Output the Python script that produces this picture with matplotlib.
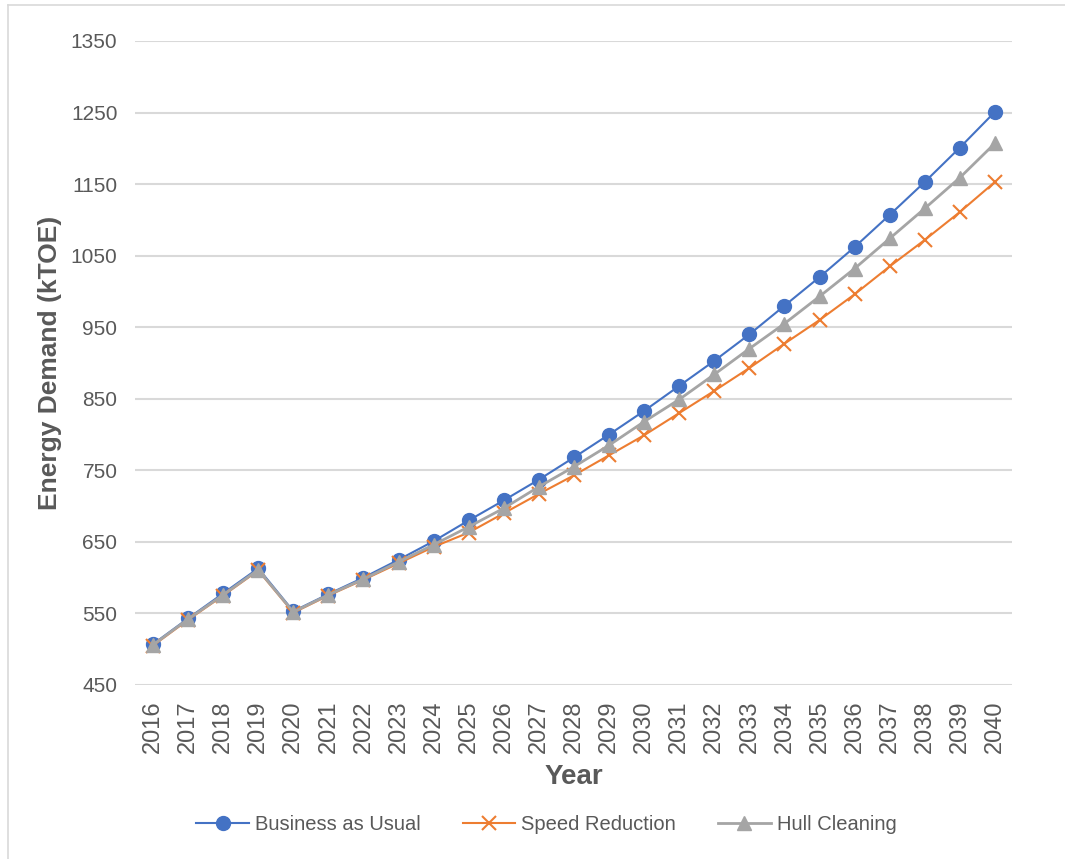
import matplotlib
matplotlib.use("Agg")
import matplotlib.pyplot as plt
from matplotlib.lines import Line2D

years = list(range(2016, 2041))
business_as_usual = [507, 543, 578, 613, 553, 577, 600, 625, 651, 680, 708, 737, 768,
                     800, 833, 868, 903, 940, 980, 1020, 1062, 1107, 1153, 1201, 1251]
speed_reduction = [505, 541, 575, 610, 551, 575, 597, 620, 643, 663, 690, 717, 743,
                   771, 799, 830, 861, 893, 927, 960, 996, 1035, 1072, 1111, 1153]
hull_cleaning = [506, 542, 576, 611, 552, 576, 598, 622, 646, 671, 697, 727, 755,
                 785, 818, 849, 884, 920, 955, 993, 1032, 1074, 1116, 1159, 1207]
y_ticks = [450, 550, 650, 750, 850, 950, 1050, 1150, 1250, 1350]

plt.rcParams['font.family'] = ['Liberation Sans', 'DejaVu Sans']
grey_text = '#595959'

fig = plt.figure(figsize=(10.65, 8.59), dpi=100)
ax = fig.add_axes([0.1272, 0.2026, 0.8235, 0.7497])

x = list(range(len(years)))
ax.plot(x, business_as_usual, color='#4472C4', lw=1.5, marker='o', ms=10,
        label='Business as Usual', zorder=3)
ax.plot(x, speed_reduction, color='#ED7D31', lw=1.5, marker='x', ms=10, mew=1.5,
        label='Speed Reduction', zorder=4)
ax.plot(x, hull_cleaning, color='#A5A5A5', lw=2, marker='^', ms=10,
        label='Hull Cleaning', zorder=5)

ax.set_xlim(-0.5, len(years) - 0.5)
ax.set_ylim(450, 1350)
ax.set_yticks(y_ticks)
ax.set_xticks(x)
ax.set_xticklabels([str(y) for y in years], rotation=90)
ax.tick_params(axis='both', length=0, colors=grey_text)
ax.tick_params(axis='y', pad=13, labelsize=15)
ax.tick_params(axis='x', pad=11, labelsize=17)
ax.grid(axis='y', color='#D9D9D9', lw=1.5)
ax.set_axisbelow(True)
for s in ax.spines.values():
    s.set_visible(False)

ax.set_ylabel('Energy Demand (kTOE)', fontsize=19, fontweight='bold', color=grey_text, labelpad=6)
ax.set_xlabel('Year', fontsize=20, fontweight='bold', color=grey_text, labelpad=8)

leg = fig.legend(loc='center', bbox_to_anchor=(0.513, 0.040), ncol=3, frameon=False,
                 fontsize=14.5, handlelength=2.6, handletextpad=0.3, columnspacing=2.1)
for t in leg.get_texts():
    t.set_color(grey_text)

# light border around the chart area
fig.add_artist(Line2D([8 / 1065, 8 / 1065], [0, 1 - 5 / 859], color='#D9D9D9', lw=1.2,
                      transform=fig.transFigure))
fig.add_artist(Line2D([8 / 1065, 1], [1 - 5 / 859, 1 - 5 / 859], color='#D9D9D9', lw=1.2,
                      transform=fig.transFigure))

fig.savefig('out.png', dpi=100, facecolor='white')
